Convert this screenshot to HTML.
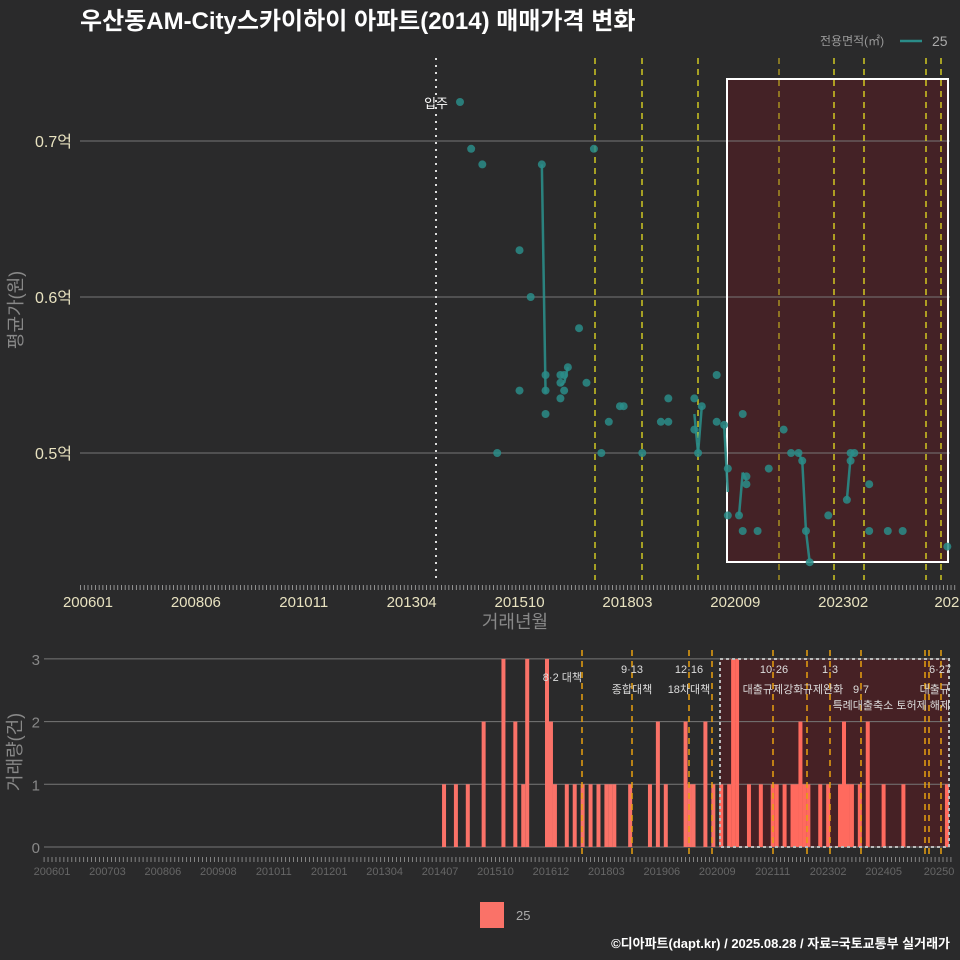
<!DOCTYPE html>
<html><head><meta charset="utf-8">
<style>
html,body{margin:0;padding:0;background:#2a2a2b;}
svg{display:block;font-family:"Liberation Sans","Noto Sans CJK KR",sans-serif;}
</style></head>
<body>
<svg id="c" width="960" height="960" viewBox="0 0 960 960">
<rect width="960" height="960" fill="#2a2a2b"/>
<text x="80" y="29" fill="#fff" font-size="24" font-weight="bold">우산동AM-City스카이하이 아파트(2014) 매매가격 변화</text>
<g>
<text x="820" y="45" fill="#999" font-size="12">전용면적(㎡)</text>
<line x1="900" y1="41" x2="922" y2="41" stroke="#2a8c88" stroke-width="2.5"/>
<text x="932" y="46" fill="#aaa" font-size="14">25</text>
</g>
<g id="topPanel"></g>
<g id="botPanel"></g>
<g>
<rect x="480" y="902" width="24" height="26" fill="#fa7268"/>
<text x="516" y="920" fill="#aaa" font-size="13">25</text>
</g>
<text x="950" y="948" text-anchor="end" fill="#fff" font-size="13" font-weight="bold">©디아파트(dapt.kr) / 2025.08.28 / 자료=국토교통부 실거래가</text>
</svg>
<script>
// price data: month index from 2006-01, price in 억
const priceMonths = [100,103,106,110,116,116,119,122,123,123,123,127,128,127,127,128,129,132,134,136,138,140,143,144,149,154,156,156,163,163,164,165,169,169,171,172,172,175,176,177,177,176,180,183,187,189,191,192,193,194,199,204,205,205,206,210,210,215,219,231];
const priceValues = [0.725,0.695,0.685,0.50,0.63,0.54,0.60,0.685,0.55,0.54,0.525,0.55,0.55,0.545,0.535,0.54,0.555,0.58,0.545,0.695,0.50,0.52,0.53,0.53,0.50,0.52,0.52,0.535,0.535,0.515,0.50,0.53,0.55,0.52,0.518,0.49,0.46,0.46,0.45,0.485,0.48,0.525,0.45,0.49,0.515,0.50,0.50,0.495,0.45,0.43,0.46,0.47,0.495,0.50,0.50,0.48,0.45,0.45,0.45,0.44];
const priceTicks = [0.5,0.6,0.7];
const priceTickLabels = ["0.5억","0.6억","0.7억"];
const xTickLabelsTop = ["200601","200806","201011","201304","201510","201803","202009","202302","2025"];
// volume data: month index from 2006-01, count
const volMonths = [99,102,105,109,114,117,119,120,125,126,127,130,132,134,136,138,140,141,142,146,151,153,155,160,161,162,165,167,169,171,172,173,176,179,182,183,185,187,188,189,190,191,194,196,199,200,201,202,204,206,210,215,226];
const volCounts = [1,1,1,2,3,2,1,3,3,2,1,1,1,1,1,1,1,1,1,1,1,2,1,2,1,1,2,1,1,1,3,3,1,1,1,1,1,1,1,2,1,1,1,1,1,2,1,1,1,2,1,1,1];
const volTicks = [0,1,2,3];
const xTickLabelsBot = ["200601","200703","200806","200908","201011","201201","201304","201407","201510","201612","201803","201906","202009","202111","202302","202405","20250"];
const policyTop = [595,642,698,779,834,864,926,941];
const policyBot = [582,632,689,712,773,807,830,861,925,929,941];

const NS="http://www.w3.org/2000/svg";
function mk(parent,tag,attrs,text){const el=document.createElementNS(NS,tag);for(const k in attrs)el.setAttribute(k,attrs[k]);if(text!==undefined)el.textContent=text;parent.appendChild(el);return el;}
const topG=document.getElementById('topPanel'), botG=document.getElementById('botPanel');
const xT=m=>88+m*3.72, yT=v=>453-(v-0.5)*1560;
const xB=m=>52+m*3.96, yB=c=>847-c*62.7;

let e;
e=mk(topG,'rect',{x:727,y:79,width:221,height:483,fill:'#5a1c22',opacity:0.55});


priceTicks.forEach((t,i)=>{
  e=mk(topG,'line',{x1:80,x2:950,y1:yT(t),y2:yT(t),stroke:'#777','stroke-width':1});
  
  
  e=mk(topG,'text',{x:72,y:yT(t)+6,'text-anchor':'end',fill:'#e8e2c0','font-size':16},priceTickLabels[i]);
  
  
});
e=mk(topG,'rect',{x:727,y:79,width:221,height:483,fill:'none',stroke:'#fff','stroke-width':2});


e=mk(topG,'line',{x1:436,x2:436,y1:58,y2:580,stroke:'#ddd','stroke-width':2,'stroke-dasharray':'2 5'});


e=mk(topG,'text',{x:448,y:108,'text-anchor':'end',fill:'#fff','font-size':13},'입주');


policyTop.forEach((x,i)=>{
  e=mk(topG,'line',{x1:x,x2:x,y1:58,y2:580,stroke:(i==3?'#b8a020':'#e8e020'),'stroke-width':1.3,'stroke-dasharray':'6 5'});
  
  
});
const mm={};priceMonths.forEach((m,i)=>{(mm[m]=mm[m]||[]).push(priceValues[i]);});
Object.keys(mm).map(Number).sort((a,b)=>a-b).forEach(m=>{
  if(mm[m+1]){const a=mm[m].reduce((s,v)=>s+v,0)/mm[m].length,b=mm[m+1].reduce((s,v)=>s+v,0)/mm[m+1].length;
  e=mk(topG,'line',{x1:xT(m),y1:yT(a),x2:xT(m+1),y2:yT(b),stroke:'#2a8c88','stroke-width':2.5,opacity:0.9});
  
  }
});
priceMonths.forEach((m,i)=>{
  e=mk(topG,'circle',{cx:xT(m),cy:yT(priceValues[i]),r:4,fill:'#2a8c88',opacity:0.85});
  
  
});
for(let m=-2;m<234;m++){e=mk(topG,'line',{x1:xT(m),x2:xT(m),y1:585,y2:590,stroke:'#aaa','stroke-width':0.8});
  
  }
xTickLabelsTop.forEach((l,i)=>{
  e=mk(topG,'text',{x:xT(i*29),y:607,'text-anchor':'middle',fill:'#e8e2c0','font-size':15},l);
  
  
});
e=mk(topG,'text',{x:515,y:628,'text-anchor':'middle',fill:'#888','font-size':18},'거래년월');


e=mk(topG,'text',{x:0,y:0,'text-anchor':'middle',fill:'#888','font-size':18,transform:'translate(22,310) rotate(-90)'},'평균가(원)');



e=mk(botG,'rect',{x:720,y:659,width:229,height:188,fill:'#5a1c22',opacity:0.6});


volTicks.forEach(t=>{
  e=mk(botG,'line',{x1:44,x2:950,y1:yB(t),y2:yB(t),stroke:'#777','stroke-width':1});
  
  
  e=mk(botG,'text',{x:40,y:yB(t)+6,'text-anchor':'end',fill:'#888','font-size':15},String(t));
  
  
});
volMonths.forEach((m,i)=>{
  e=mk(botG,'rect',{x:xB(m)-2,y:yB(volCounts[i]),width:4,height:yB(0)-yB(volCounts[i]),fill:(m>=169?'#ff6a5e':'#fa7268')});
  
  
});
policyBot.forEach(x=>{
  e=mk(botG,'line',{x1:x,x2:x,y1:650,y2:857,stroke:'#e8a010','stroke-width':1.5,'stroke-dasharray':'6 5'});
  
  
});
e=mk(botG,'rect',{x:720,y:659,width:229,height:188,fill:'none',stroke:'#bbb','stroke-width':2,'stroke-dasharray':'3 3'});


const ann=[[582,681,'end','8·2 대책'],[632,673,'middle','9·13'],[632,693,'middle','종합대책'],[689,673,'middle','12·16'],[689,693,'middle','18차대책'],[774,673,'middle','10·26'],[773,693,'middle','대출규제강화'],[830,673,'middle','1·3'],[823,693,'middle','규제완화'],[861,693,'middle','9·7'],[950,709,'end','특례대출축소 토허제 해제'],[940,673,'middle','6·27'],[950,693,'end','대출규']];
ann.forEach(a=>{
  e=mk(botG,'text',{x:a[0],y:a[1],'text-anchor':a[2],fill:'#ddd','font-size':11},a[3]);
  
  
});
for(let m=-2;m<228;m++){e=mk(botG,'line',{x1:xB(m),x2:xB(m),y1:857,y2:862,stroke:'#999','stroke-width':0.8});
  
  }
xTickLabelsBot.forEach((l,i)=>{
  e=mk(botG,'text',{x:xB(i*14),y:875,'text-anchor':'middle',fill:'#666','font-size':11},l);
  
  
});
e=mk(botG,'text',{x:0,y:0,'text-anchor':'middle',fill:'#888','font-size':18,transform:'translate(21,752) rotate(-90)'},'거래량(건)');


</script>
</body></html>
